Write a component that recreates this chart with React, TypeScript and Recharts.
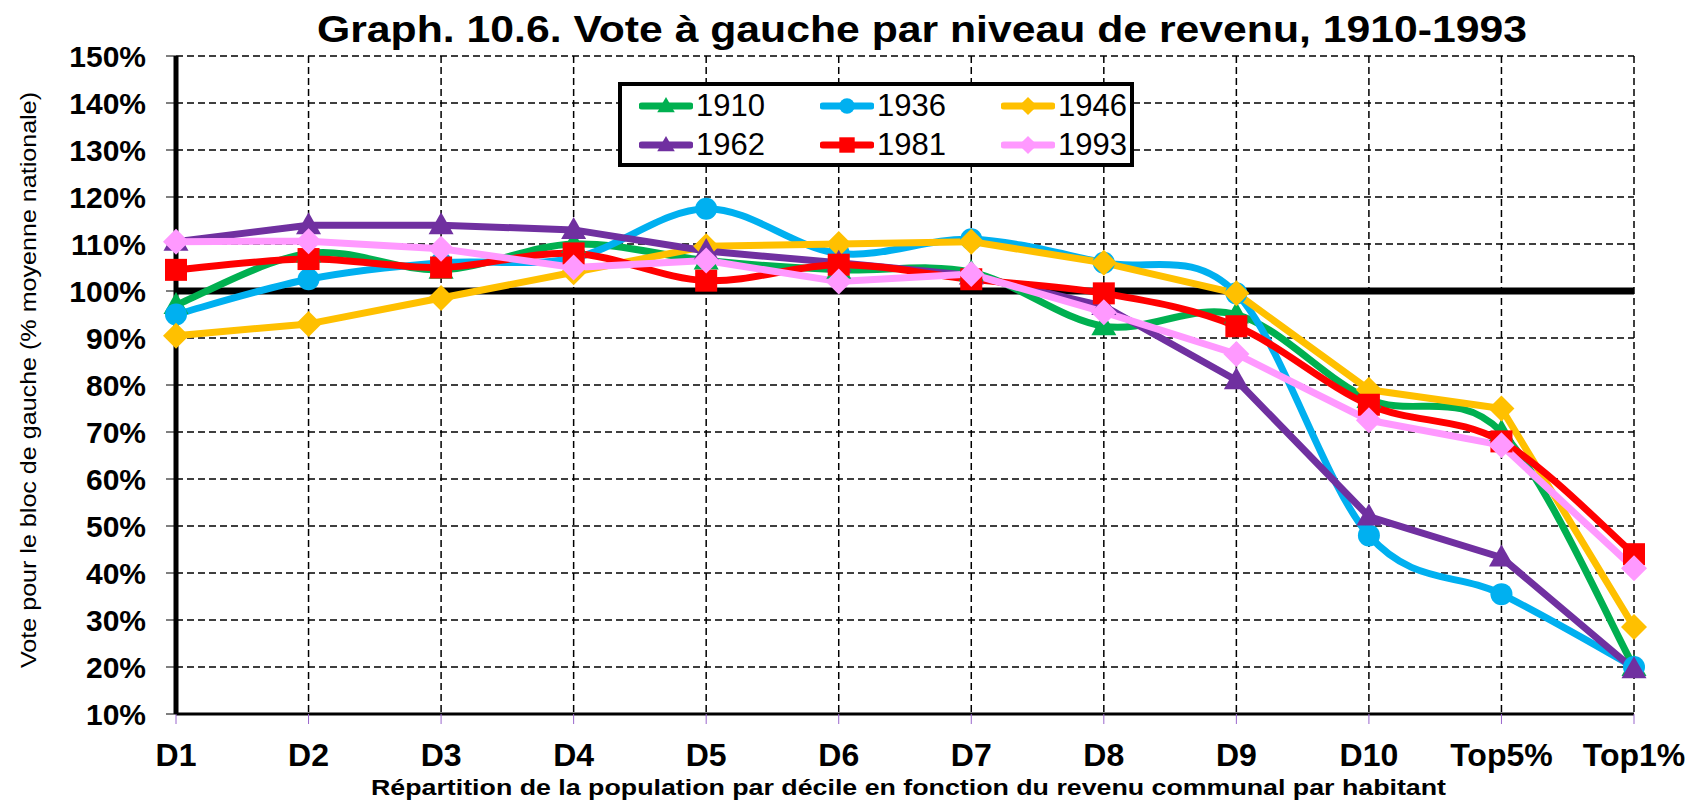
import React from 'react';
import { LineChart, Line, XAxis, YAxis, CartesianGrid, Legend, ReferenceLine } from 'recharts';

const categories = ['D1', 'D2', 'D3', 'D4', 'D5', 'D6', 'D7', 'D8', 'D9', 'D10', 'Top5%', 'Top1%'];

const v1910 = [97, 108, 104.5, 110, 106.5, 104.5, 104, 92.5, 95, 77, 70, 20];
const v1936 = [95, 102.5, 106, 107, 117.5, 108, 111, 106, 99.5, 48, 35.5, 20];
const v1946 = [90.5, 93, 98.5, 104, 109.5, 110, 110.5, 106, 99.5, 79, 75, 28.5];
const v1962 = [110.5, 114, 114, 113, 108.5, 106, 103.3, 96.8, 81, 52, 43.3, 19.5];
const v1981 = [104.5, 106.8, 105, 108, 102.2, 105.6, 102.5, 99.5, 92.5, 75.8, 68, 44];
const v1993 = [110.5, 110.6, 109, 105, 106.5, 102, 103.6, 95.5, 86.6, 72.5, 67.2, 41];

const yTicks = [10, 20, 30, 40, 50, 60, 70, 80, 90, 100, 110, 120, 130, 140, 150];

const SERIES = [
  { key: 'y1910', name: '1910', color: '#00B050', shape: 'triangle', smooth: true, values: v1910 },
  { key: 'y1936', name: '1936', color: '#00B0F0', shape: 'circle', smooth: true, values: v1936 },
  { key: 'y1946', name: '1946', color: '#FFC000', shape: 'diamond', smooth: false, values: v1946 },
  { key: 'y1962', name: '1962', color: '#7030A0', shape: 'triangle', smooth: false, values: v1962 },
  { key: 'y1981', name: '1981', color: '#FF0000', shape: 'square', smooth: true, values: v1981 },
  { key: 'y1993', name: '1993', color: '#FF99FF', shape: 'diamond', smooth: false, values: v1993 },
];

const data = categories.map((cat, i) => {
  const row: any = { cat };
  SERIES.forEach((s) => { row[s.key] = s.values[i]; });
  return row;
});

const FONT = '"Liberation Sans", Arial, sans-serif';

// Excel-style smoothed line (Catmull-Rom through the points)
const excelCurve: any = (ctx: any) => {
  let pts: number[][] = [];
  return {
    areaStart() {},
    areaEnd() {},
    lineStart() { pts = []; },
    point(x: number, y: number) { pts.push([+x, +y]); },
    lineEnd() {
      const n = pts.length;
      if (!n) return;
      ctx.moveTo(pts[0][0], pts[0][1]);
      for (let i = 0; i < n - 1; i++) {
        const p0 = pts[i - 1] || pts[i];
        const p1 = pts[i];
        const p2 = pts[i + 1];
        const p3 = pts[i + 2] || pts[i + 1];
        ctx.bezierCurveTo(
          p1[0] + (p2[0] - p0[0]) / 6, p1[1] + (p2[1] - p0[1]) / 6,
          p2[0] - (p3[0] - p1[0]) / 6, p2[1] - (p3[1] - p1[1]) / 6,
          p2[0], p2[1]
        );
      }
    },
  };
};

const Marker = ({ cx, cy, shape, color, size = 1 }: any) => {
  if (cx == null || cy == null) return null;
  const s = size;
  if (shape === 'circle') return <circle cx={cx} cy={cy} r={11 * s} fill={color} />;
  if (shape === 'square') return <rect x={cx - 11 * s} y={cy - 11 * s} width={22 * s} height={22 * s} fill={color} />;
  if (shape === 'diamond') {
    const d = 13 * s;
    return <polygon points={`${cx},${cy - d} ${cx + d},${cy} ${cx},${cy + d} ${cx - d},${cy}`} fill={color} />;
  }
  return (
    <polygon
      points={`${cx},${cy - 13 * s} ${cx + 12.5 * s},${cy + 9 * s} ${cx - 12.5 * s},${cy + 9 * s}`}
      fill={color}
    />
  );
};

const renderLegend = ({ payload }: any) => (
  <div style={{ position: 'relative', width: 516, height: 85, border: '4px solid #000', boxSizing: 'border-box', background: '#fff', fontFamily: FONT }}>
    {(payload || []).map((entry: any, i: number) => {
      const s = SERIES.find((x) => x.name === entry.value) || SERIES[0];
      const col = i % 3;
      const row = Math.floor(i / 3);
      return (
        <div key={s.key} style={{ position: 'absolute', left: 17 + col * 181, top: -2 + row * 39, height: 44, display: 'flex', alignItems: 'center' }}>
          <svg width={54} height={30}>
            <line x1={3} y1={15} x2={51} y2={15} stroke={s.color} strokeWidth={7} strokeLinecap="round" />
            <Marker cx={27} cy={15} shape={s.shape} color={s.color} size={0.7} />
          </svg>
          <span style={{ fontSize: 31, color: '#000', marginLeft: 3, lineHeight: '44px' }}>{entry.value}</span>
        </div>
      );
    })}
  </div>
);

export default function App() {
  return (
    <div style={{ position: 'absolute', left: 0, top: 0, width: 1698, height: 802, background: '#fff', fontFamily: FONT }}>
      <LineChart width={1698} height={802} data={data} margin={{ top: 56, right: 64, left: 56, bottom: 28 }}>
        <CartesianGrid stroke="#000" strokeDasharray="7 4" strokeWidth={1.5} />
        <XAxis
          dataKey="cat"
          height={60}
          axisLine={{ stroke: '#000', strokeWidth: 3 }}
          tickLine={{ stroke: '#9966CC', strokeWidth: 1 }}
          tickSize={10}
          tickMargin={19}
          interval={0}
          tick={{ fontSize: 32, fontWeight: 'bold', fill: '#000', fontFamily: FONT }}
        />
        <XAxis xAxisId="top" dataKey="cat" orientation="top" height={0} tick={false} tickLine={false} axisLine={{ stroke: '#000', strokeWidth: 5 }} />
        <YAxis
          type="number"
          domain={[10, 150]}
          ticks={yTicks}
          interval={0}
          width={120}
          allowDataOverflow
          tickFormatter={(v: number) => `${v}%`}
          axisLine={{ stroke: '#000', strokeWidth: 5 }}
          tickLine={{ stroke: '#000', strokeWidth: 1 }}
          tickSize={10}
          tickMargin={20}
          tick={{ fontSize: 30, fontWeight: 'bold', fill: '#000', fontFamily: FONT }}
        />
        <YAxis yAxisId="right" orientation="right" type="number" domain={[10, 150]} width={0} tick={false} tickLine={false} axisLine={{ stroke: '#000', strokeWidth: 4 }} />
        <ReferenceLine y={100} stroke="#000" strokeWidth={7} />
        {SERIES.map((s) => (
          <Line
            key={s.key}
            dataKey={s.key}
            name={s.name}
            type={s.smooth ? excelCurve : 'linear'}
            stroke={s.color}
            strokeWidth={7}
            strokeLinejoin="round"
            legendType="line"
            isAnimationActive={false}
            dot={(p: any) => <Marker key={`${s.key}-${p.index}`} cx={p.cx} cy={p.cy} shape={s.shape} color={s.color} />}
            activeDot={false}
          />
        ))}
        <Legend
          layout="horizontal"
          verticalAlign="middle"
          align="center"
          content={renderLegend}
          wrapperStyle={{ left: 618, top: 82, width: 516, height: 85 }}
        />
      </LineChart>
      <svg width={1698} height={802} style={{ position: 'absolute', left: 0, top: 0, pointerEvents: 'none' }}>
        <text x={317} y={42} fontSize={37} fontWeight="bold" fontFamily={FONT} fill="#000" textLength={1210} lengthAdjust="spacingAndGlyphs">
          Graph. 10.6. Vote à gauche par niveau de revenu, 1910-1993
        </text>
        <text x={371} y={795} fontSize={22} fontWeight="bold" fontFamily={FONT} fill="#000" textLength={1075} lengthAdjust="spacingAndGlyphs">
          Répartition de la population par décile en fonction du revenu communal par habitant
        </text>
        <text
          x={0}
          y={0}
          transform="translate(36,380) rotate(-90)"
          textAnchor="middle"
          fontSize={22}
          fontFamily={FONT}
          fill="#000"
          textLength={576}
          lengthAdjust="spacingAndGlyphs"
        >
          Vote pour le bloc de gauche (% moyenne nationale)
        </text>
      </svg>
    </div>
  );
}
